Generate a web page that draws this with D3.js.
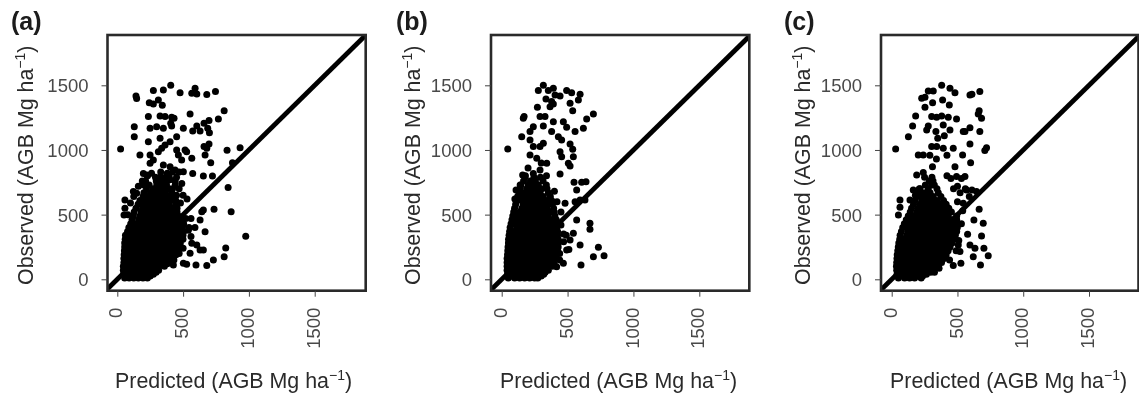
<!DOCTYPE html>
<html><head><meta charset="utf-8">
<script src="https://cdn.jsdelivr.net/npm/d3@7/dist/d3.min.js"></script>
<style>html,body{margin:0;background:#fff}svg{display:block}text{font-family:"Liberation Sans",Arial,sans-serif}</style>
</head><body><svg id="c" width="1139" height="399"></svg>
<script>
const tickValues=[0,500,1000,1500];
const panelLabels=["(a)","(b)","(c)"];
// Sparse points: [predicted, observed]
const sparseA=[[25,1008],[142,1417],[147,1397],[129,1180],[129,1103],[274,1459],[350,1464],[406,1500],[477,1443],[591,1477],[566,1438],[604,1433],[680,1428],[746,1453],[243,1366],[274,1355],[312,1386],[342,1345],[812,1304],[768,1240],[697,1227],[659,1206],[604,1185],[573,1147],[629,1147],[687,1167],[700,1134],[553,1278],[236,1258],[325,1263],[363,1258],[413,1252],[431,1245],[406,1206],[249,1167],[299,1180],[350,1167],[413,1185],[502,1167],[451,1103],[325,1090],[236,1064],[401,1064],[363,1039],[337,1013],[312,987],[172,961],[249,961],[451,1000],[515,1000],[527,987],[464,961],[489,923],[566,935],[249,897],[274,923],[697,1046],[680,1013],[659,1026],[667,961],[710,902],[834,997],[933,1018],[875,902],[723,799],[654,799],[573,819],[502,832],[350,884],[401,871],[439,845],[198,819],[223,807],[842,709],[865,523],[735,541],[976,332],[824,242],[812,175],[730,149],[680,106],[598,111],[527,116],[502,124],[426,111],[642,523],[654,536],[629,459],[667,368],[566,278],[604,265],[629,227],[553,201],[654,227],[58,613],[58,549],[51,497],[147,665],[122,678],[500,420],[545,400],[520,470],[560,470],[540,380],[470,200],[500,240],[430,150],[380,120],[560,330],[590,400],[260,820],[290,790],[330,830],[440,760],[470,700],[500,650],[530,620],[480,590],[160,720],[190,760],[230,800],[80,500],[100,590],[125,640],[420,700],[450,650],[440,730],[400,770],[215,760],[200,730],[450,790],[490,740],[420,830],[470,830],[380,820]];
const sparseB=[[46,1008],[316,1500],[278,1459],[354,1459],[392,1477],[493,1459],[531,1443],[595,1430],[582,1386],[519,1361],[539,1304],[405,1425],[443,1417],[336,1394],[379,1374],[392,1355],[367,1335],[271,1330],[170,1258],[164,1245],[291,1258],[329,1258],[696,1278],[645,1240],[620,1167],[557,1142],[493,1175],[468,1219],[392,1219],[316,1185],[240,1180],[215,1142],[152,1103],[379,1142],[430,1103],[455,1077],[215,1077],[519,1046],[539,1005],[544,948],[443,987],[455,948],[506,897],[519,876],[316,1051],[291,1026],[240,1026],[215,961],[266,935],[342,897],[443,814],[549,750],[607,750],[640,755],[569,691],[481,588],[557,600],[595,613],[632,613],[569,459],[670,433],[670,387],[734,247],[696,175],[777,183],[602,111],[595,265],[544,356],[519,304],[493,227],[468,124],[417,98],[109,691],[159,807],[240,819],[291,845],[440,200],[470,290],[470,350],[490,340],[510,230],[440,150],[400,110],[450,520],[420,600],[400,680],[340,800],[300,900],[200,860],[180,800],[140,730],[100,620],[450,420]];
const sparseC=[[30,1008],[380,1500],[316,1456],[278,1456],[228,1399],[253,1407],[443,1477],[481,1443],[387,1386],[438,1348],[253,1330],[311,1366],[182,1263],[159,1185],[127,1103],[278,1185],[266,1155],[304,1258],[342,1252],[380,1263],[493,1240],[430,1252],[392,1193],[443,1155],[336,1142],[557,1142],[595,1172],[544,1142],[610,1430],[670,1453],[595,1425],[665,1304],[658,1278],[683,1245],[670,1142],[595,1046],[721,1018],[708,995],[539,961],[600,902],[481,871],[342,1026],[304,1026],[202,961],[240,961],[392,1013],[468,1013],[190,807],[240,825],[557,794],[493,794],[569,691],[645,678],[544,588],[665,541],[625,459],[696,433],[577,348],[683,335],[701,240],[620,175],[734,183],[675,111],[526,124],[468,106],[519,214],[595,265],[633,240],[506,265],[63,613],[63,557],[51,497],[139,613],[164,691],[420,800],[450,780],[530,780],[470,700],[520,670],[590,640],[500,600],[540,530],[530,430],[510,300],[490,220],[440,150],[310,870],[340,930],[290,960],[350,1090],[400,1110],[420,960],[250,790],[210,700],[180,650],[500,720],[560,700],[610,690],[330,100],[354,130],[385,160],[400,190],[405,220],[420,250],[440,280],[455,310]];
// Dense cloud read row by row: [observed, predicted, predicted, ...]
const cloudA=[[10,56,90,125,160,195,229],[25,70,108,144,180,216,250],[40,48,88,125,162,200,238,274],[55,65,100,140,180,218,255,295],[70,46,82,120,158,196,234,272,314],[100,46,88,126,164,202,240,278,316,358],[130,50,80,118,156,194,232,270,308,346,392],[160,50,94,132,170,208,246,284,322,360,398,424],[190,52,84,122,160,198,236,274,312,350,388,426,446],[220,54,98,136,174,212,250,288,326,364,402,440,462],[250,56,88,126,164,202,240,278,316,354,392,430,474],[280,56,102,140,178,216,254,292,330,368,406,444,479],[310,60,92,130,168,206,244,282,320,358,396,434,472,499],[340,62,106,144,182,220,258,296,334,372,410,448,486,499],[370,78,122,160,198,236,274,312,350,388,426,464,504],[400,88,136,174,212,250,288,326,364,402,440,478,494],[430,102,150,188,226,264,302,340,378,416,454,504],[460,112,162,200,238,276,314,352,390,428,474],[490,122,172,210,248,286,324,362,400,438,464],[520,128,182,220,258,296,334,372,410,454],[550,142,192,230,268,306,344,382,420,454],[580,158,204,242,280,318,356,394,444],[610,172,216,254,292,330,368,406,444],[640,196,236,274,312,350,388,424],[670,202,252,290,328,366,414],[700,222,272,310,348,394],[730,242,300,338,374],[760,296,340,375],[790,326,365,395]];
const cloudB=[[10,50,98,136,174,212,250,274],[25,70,115,155,195,230,265,300],[40,44,80,118,156,194,232,270,319],[55,60,100,138,176,214,250,290,330],[70,41,88,126,164,202,240,278,316,354],[100,41,76,114,152,190,228,266,304,342,384],[130,41,88,126,164,202,240,278,316,354,394],[160,41,76,114,152,190,228,266,304,342,380,404],[190,44,88,126,164,202,240,278,316,354,392,414],[220,46,76,114,152,190,228,266,304,342,380,424],[250,48,88,126,164,202,240,278,316,354,392,429],[280,51,76,114,152,190,228,266,304,342,380,429],[310,52,88,126,164,202,240,278,316,354,392,429],[340,56,76,114,152,190,228,266,304,342,380,424],[370,60,88,126,164,202,240,278,316,354,392,424],[400,64,114,152,190,228,266,304,342,380,419],[430,71,88,126,164,202,240,278,316,354,392,414],[460,78,114,152,190,228,266,304,342,380,414],[490,84,126,164,202,240,278,316,354,404],[520,91,140,178,216,254,292,330,368,399],[550,98,152,190,228,266,304,342,394],[580,106,164,202,240,278,316,354,384],[610,116,152,190,228,266,304,342,379],[640,121,164,202,240,278,316,369],[670,131,178,216,254,292,354],[700,141,190,228,266,304,344],[730,146,202,240,278,339],[760,166,218,256,314],[790,176,245,294]];
const cloudC=[[10,51,98,136,174,224],[25,60,115,155,195,235],[40,41,84,122,160,198,236,264],[55,60,105,145,180,220,258,296,325],[70,38,88,126,164,202,240,278,314],[85,55,95,133,170,208,246,284,322,360],[100,36,76,114,152,190,228,266,304,354],[130,38,88,126,164,202,240,278,316,379],[160,40,76,114,152,190,228,266,304,342,399],[190,42,88,126,164,202,240,278,316,354,414],[220,46,76,114,152,190,228,266,304,342,380,429],[250,50,88,126,164,202,240,278,316,354,392,444],[280,54,76,114,152,190,228,266,304,342,380,418,459],[310,61,88,126,164,202,240,278,316,354,392,430,474],[340,64,114,152,190,228,266,304,342,380,418,456,484],[370,74,126,164,202,240,278,316,354,392,430,468,494],[400,84,114,152,190,228,266,304,342,380,418,456,499],[430,96,126,164,202,240,278,316,354,392,430,468,494],[460,111,152,190,228,266,304,342,380,418,456,494],[490,126,164,202,240,278,316,354,392,430,494],[520,141,190,228,266,304,342,380,418,454],[550,151,202,240,278,316,354,392,434],[580,166,216,254,292,330,368,414],[610,176,228,266,304,342,394],[640,196,240,278,316,374],[670,206,254,292,354],[700,216,278,344],[730,256,304,324],[760,286,314],[790,306]];

(function(){
const panels=[
 {sparse:sparseA,cloud:cloudA,left:107.5,right:365.7,x0:117.3,x1500:314.7,lx:11,ytx:33,xtx:115},
 {sparse:sparseB,cloud:cloudB,left:491,right:749.3,x0:501.7,x1500:699.3,lx:396,ytx:420,xtx:500},
 {sparse:sparseC,cloud:cloudC,left:881,right:1138.5,x0:891.7,x1500:1089,lx:784,ytx:810,xtx:890}
];
const frameTop=35,frameBottom=290.7,y0=279.3,y1500=85.3;
const svg=d3.select("#c");
const defs=svg.append("defs");
defs.append("filter").attr("id","soft").attr("x","-5%").attr("y","-5%").attr("width","110%").attr("height","110%")
  .append("feGaussianBlur").attr("stdDeviation",0.45);
const root=svg.append("g").attr("filter","url(#soft)");
const y=d3.scaleLinear().domain([0,1500]).range([y0,y1500]);
panels.forEach((p,i)=>{
  const x=d3.scaleLinear().domain([0,1500]).range([p.x0,p.x1500]);
  const g=root.append("g");
  const pts=[...p.sparse];
  p.cloud.forEach(r=>r.slice(1).forEach(v=>pts.push([v,r[0]])));
  defs.append("clipPath").attr("id","clip"+i).append("rect")
    .attr("x",p.left).attr("y",frameTop).attr("width",p.right-p.left).attr("height",frameBottom-frameTop);
  const plot=g.append("g").attr("clip-path",`url(#clip${i})`);
  plot.append("line")
    .attr("x1",x(-100)).attr("y1",y(-100)).attr("x2",x(2000)).attr("y2",y(2000))
    .attr("stroke","#000").attr("stroke-width",4.8);
  plot.selectAll("circle").data(pts).join("circle")
    .attr("cx",d=>x(d[0])).attr("cy",d=>y(d[1])).attr("r",3.5).attr("fill","#000");
  g.append("rect").attr("x",p.left).attr("y",frameTop).attr("width",p.right-p.left).attr("height",frameBottom-frameTop)
    .attr("fill","none").attr("stroke","#2b2b2b").attr("stroke-width",2.6);
  const ax=g.append("g").attr("transform",`translate(0,${frameBottom})`)
    .call(d3.axisBottom(x).tickValues(tickValues).tickSize(6).tickFormat(d3.format("d")));
  ax.select(".domain").remove();
  ax.selectAll("line").attr("stroke","#444").attr("stroke-width",1);
  ax.selectAll("text").attr("transform","rotate(-90)").attr("text-anchor","end")
    .attr("x",-17).attr("y",-2).attr("dy","0.36em").attr("font-size",18.5).attr("fill","#4a4a4a");
  const ay=g.append("g").attr("transform",`translate(${p.left},0)`)
    .call(d3.axisLeft(y).tickValues(tickValues).tickSize(6).tickFormat(d3.format("d")));
  ay.select(".domain").remove();
  ay.selectAll("line").attr("stroke","#444").attr("stroke-width",1);
  ay.selectAll("text").attr("x",-19).attr("dy","0.36em").attr("font-size",18.5).attr("fill","#4a4a4a");
  g.append("text").attr("x",p.lx).attr("y",30).attr("font-size",25).attr("font-weight","bold").attr("fill","#1a1a1a").text(panelLabels[i]);
  const label=(sel,main)=>{
    sel.attr("font-size",21.4).attr("fill","#2a2a2a");
    sel.append("tspan").text(main+" (AGB Mg ha");
    sel.append("tspan").attr("font-size",14).attr("dy",-8).text("\u22121");
    sel.append("tspan").attr("dy",8).text(")");
  };
  label(g.append("text").attr("x",p.xtx).attr("y",388),"Predicted");
  label(g.append("text").attr("transform",`translate(${p.ytx},285) rotate(-90)`),"Observed");
});
})();
</script></body></html>
